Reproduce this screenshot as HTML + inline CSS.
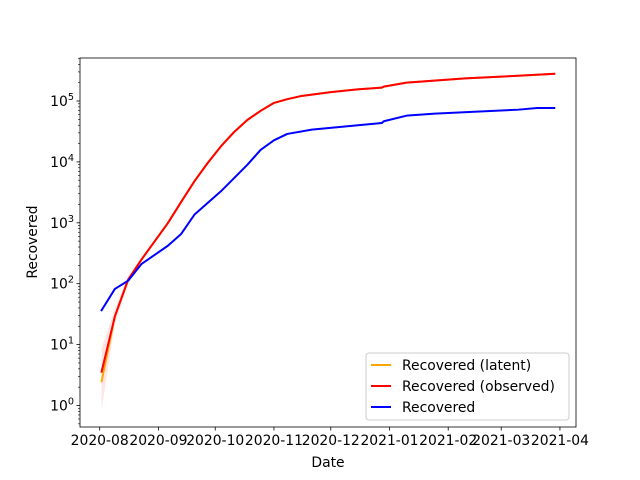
<!DOCTYPE html>
<html><head><meta charset="utf-8"><style>
html,body{margin:0;padding:0;background:#fff}
svg{display:block;font-family:"DejaVu Sans","Liberation Sans",sans-serif}
</style></head><body>
<svg id="chart" width="640" height="480" viewBox="0 0 640 480"></svg>
<script>
const obsDates=["2020-08-02","2020-08-09","2020-08-16","2020-08-23","2020-09-06","2020-09-13","2020-09-20","2020-09-27","2020-10-04","2020-10-11","2020-10-18","2020-10-25","2020-11-01","2020-11-08","2020-11-15","2020-12-01","2020-12-15","2020-12-28","2020-12-29","2021-01-10","2021-02-10","2021-03-10","2021-03-29"];
const observed=[3.6,29,116,248,990,2200,4800,9600,18000,31000,49000,69000,93000,107000,120000,140000,155000,166000,172000,200000,235000,260000,280000];
const latent=[2.5,29,116,248,990,2200,4800,9600,18000,31000,49000,69000,93000,107000,120000,140000,155000,166000,172000,200000,235000,260000,280000];
const bandLow=[0.85,22,100,235,960,2150,4700,9400,17700,30600,48500,68300,92000,106000,119000,139000,154000,165000,171000,199000,234000,259000,279000];
const bandHigh=[8.7,38,135,262,1020,2250,4900,9800,18300,31400,49500,69700,94000,108000,121000,141000,156000,167000,173000,201000,236000,261000,281000];
const recDates=["2020-08-02","2020-08-09","2020-08-16","2020-08-23","2020-09-06","2020-09-13","2020-09-20","2020-10-04","2020-10-18","2020-10-25","2020-11-01","2020-11-08","2020-11-21","2020-12-28","2020-12-29","2021-01-10","2021-01-25","2021-03-10","2021-03-20","2021-03-29"];
const recovered=[36.6,82,112,210,420,655,1360,3290,9000,15800,22600,28800,33900,43500,46500,57400,62000,72000,76700,76700];
const xTickLabels=["2020-08","2020-09","2020-10","2020-11","2020-12","2021-01","2021-02","2021-03","2021-04"];
const yTickExps=[0,1,2,3,4,5];

const NS="http://www.w3.org/2000/svg";
const svg=document.getElementById("chart");
const L=80,R=576,T=58,B=427;
const t0=Date.UTC(2020,7,1);
function dayOf(s){const p=s.split("-");return (Date.UTC(+p[0],+p[1]-1,+p[2])-t0)/86400000;}
function xs(s){return 99.7+dayOf(s)*1.894;}
function ys(v){return 405.5-Math.log10(v)*60.9;}
function mk(tag,attrs,parent){const e=document.createElementNS(NS,tag);for(const k in attrs)e.setAttribute(k,attrs[k]);(parent||svg).appendChild(e);return e;}

let d="";
obsDates.forEach((s,i)=>{d+=(i?"L":"M")+xs(s)+","+ys(bandHigh[i]);});
for(let i=obsDates.length-1;i>=0;i--)d+="L"+xs(obsDates[i])+","+ys(bandLow[i]);
const band=mk("path",{d:d+"Z",fill:"red","fill-opacity":"0.1",stroke:"none"});



function line(dates,vals,color,name){
  const pts=dates.map((s,i)=>xs(s)+","+ys(vals[i])).join(" ");
  const p=mk("polyline",{points:pts,fill:"none",stroke:color,"stroke-width":"2","stroke-linejoin":"round","stroke-linecap":"square"});
  
  
}
line(obsDates,latent,"orange","recovered-latent-line");
line(obsDates,observed,"red","recovered-observed-line");
line(recDates,recovered,"blue","recovered-line");

const fr=mk("rect",{x:L,y:T,width:R-L,height:B-T,fill:"none",stroke:"#000","stroke-width":"0.8"});



xTickLabels.forEach(lbl=>{
  const x=xs(lbl+"-01");
  mk("line",{x1:x,x2:x,y1:B,y2:B+3.5,stroke:"#000","stroke-width":"0.8"});
  const t=mk("text",{x:x,y:B+18,"text-anchor":"middle","font-size":"13.9",fill:"#000"});
  t.textContent=lbl;
  
  
});
yTickExps.forEach(e=>{
  const y=ys(Math.pow(10,e));
  mk("line",{x1:L-3.5,x2:L,y1:y,y2:y,stroke:"#000","stroke-width":"0.8"});
  const t=mk("text",{x:L-6,y:y+5,"text-anchor":"end","font-size":"13.9",fill:"#000"});
  t.textContent="10";
  const sp=mk("tspan",{dy:"-6","font-size":"9.7"},t);
  sp.textContent=String(e);
  
  
});
for(let e=-1;e<=5;e++){for(let m=2;m<=9;m++){const v=m*Math.pow(10,e);const y=ys(v);if(y<T||y>B)continue;
  mk("line",{x1:L-2,x2:L,y1:y,y2:y,stroke:"#000","stroke-width":"0.6"});}}

const xl=mk("text",{x:328,y:467,"text-anchor":"middle","font-size":"13.9",fill:"#000"});
xl.textContent="Date";


const yl=mk("text",{x:0,y:0,"text-anchor":"middle","font-size":"13.9",fill:"#000",transform:"translate(37,242) rotate(-90)"});
yl.textContent="Recovered";



const lg=mk("g",{});


mk("rect",{x:366,y:353,width:203,height:67,rx:3,fill:"#fff","fill-opacity":"0.8",stroke:"#ccc","stroke-width":"1"},lg);
[["orange","Recovered (latent)",365],["red","Recovered (observed)",386],["blue","Recovered",407]].forEach(([c,lbl,y])=>{
  mk("line",{x1:371,x2:391,y1:y,y2:y,stroke:c,"stroke-width":"2"},lg);
  const t=mk("text",{x:402,y:y+5,"font-size":"13.9",fill:"#000"},lg);
  t.textContent=lbl;
  
  
});
</script>
</body></html>
